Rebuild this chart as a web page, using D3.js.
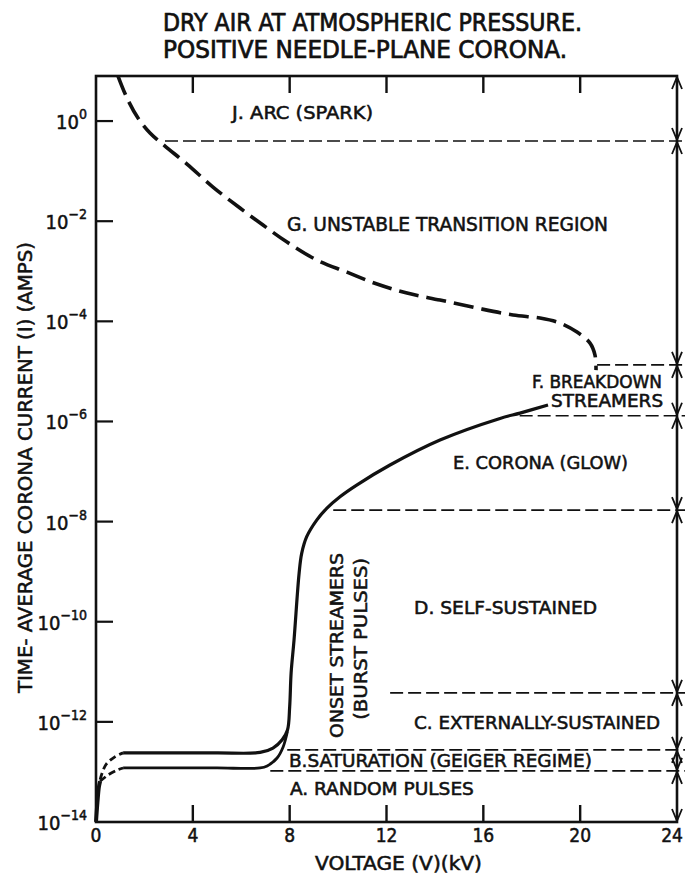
<!DOCTYPE html>
<html><head><meta charset="utf-8">
<script src="https://cdn.jsdelivr.net/npm/d3@7"></script>
<style>
html,body{margin:0;padding:0;background:#fff;}
svg text{font-family:"Liberation Sans Narrow","DejaVu Sans Condensed","Arial Narrow",sans-serif;fill:#111;stroke:#111;stroke-width:0.5px;}
</style></head><body>
<svg id="chart" width="686" height="876"></svg>
<script>
// ---------------- data ----------------
const titleLines = ["DRY AIR AT ATMOSPHERIC PRESSURE.", "POSITIVE NEEDLE-PLANE CORONA."];
const xTicks = [0, 4, 8, 12, 16, 20, 24];
const yTickExps = [0, -2, -4, -6, -8, -10, -12, -14];
const xLabel = "VOLTAGE  (V)(kV)";
const yLabel = "TIME- AVERAGE CORONA CURRENT (I) (AMPS)";

// main solid I-V curve (upper branch, onset rise, glow corona)
const mainV = [1.12, 3.0, 5.0, 6.78, 7.31, 7.69, 7.91, 8.0, 8.06, 8.18, 8.39, 8.497, 8.704, 9.117, 9.53, 10.079, 10.769, 12.145, 14.21, 16.689, 17.515, 18.672];
const mainI = [2.4e-13, 2.4e-13, 2.4e-13, 2.45e-13, 3.0e-13, 4.4e-13, 6.9e-13, 2.0e-12, 9.5e-12, 4.3e-11, 9.3e-10, 2.32e-9, 4.99e-9, 1.07e-8, 1.84e-8, 3.14e-8, 5.37e-8, 1.35e-7, 4.26e-7, 1.15e-6, 1.47e-6, 2.13e-6];
// lower solid branch
const lowerV = [1.12, 3.0, 5.0, 6.78, 7.07, 7.48, 7.73, 7.91];
const lowerI = [1.2e-13, 1.2e-13, 1.2e-13, 1.2e-13, 1.32e-13, 1.9e-13, 3.16e-13, 6.5e-13];
// solid stub at origin
const stubV = [0.0, 0.06, 0.12, 0.17];
const stubI = [1.0e-14, 2.5e-14, 5.0e-14, 6.5e-14];
// dashed connectors near origin
const connLowV = [0.17, 0.5, 0.9, 1.12];
const connLowI = [6.5e-14, 8.7e-14, 1.1e-13, 1.2e-13];
const connUpV = [0.17, 0.4, 0.78, 1.12];
const connUpI = [7.0e-14, 1.38e-13, 2.0e-13, 2.4e-13];
// unstable transition curve (dashed)
const unstV = [0.909, 1.281, 1.735, 2.231, 2.85, 3.759, 4.833, 5.948, 6.898, 7.89, 9.129, 10.368, 11.608, 12.847, 14.21, 15.739, 17.226, 18.341, 19.167, 19.87, 20.407, 20.613, 20.655];
const unstI = [7.92, 2.88, 1.148, 0.576, 0.317, 0.138, 0.0481, 0.0183, 0.00837, 0.00383, 0.00167, 9.6e-4, 5.56e-4, 3.67e-4, 2.66e-4, 1.84e-4, 1.34e-4, 1.16e-4, 9.25e-5, 6.1e-5, 3.68e-5, 2.12e-5, 1.06e-5];

// regime boundaries (current) and the voltage where each dashed line starts
const boundaryI = [0.4, 1.35e-5, 1.3e-6, 1.7e-8, 3.8e-12, 2.75e-13, 1.05e-13];
const boundaryStartV = [2.85, 20.7, 17.5, 9.8, 12.15, 7.9, 7.2];

// regime labels
const regionText = ["J. ARC (SPARK)", "G. UNSTABLE TRANSITION REGION", "F. BREAKDOWN", "STREAMERS",
  "E. CORONA (GLOW)", "D. SELF-SUSTAINED", "C. EXTERNALLY-SUSTAINED",
  "B.SATURATION (GEIGER REGIME)", "A. RANDOM PULSES"];
const verticalText = ["ONSET STREAMERS", "(BURST PULSES)"];

// ---------------- layout ----------------
const W = 686, H = 876;
const L = 96, R = 677, T = 76, B = 822;
const svg = d3.select("#chart");
svg.append("rect").attr("width", W).attr("height", H).attr("fill", "#fff");

const x = d3.scaleLinear().domain([0, 24]).range([L, R]);
const y = d3.scaleLog().domain([1e-14, Math.pow(10, 0.9)]).range([B, T]);

const ink = "#111";

// label anchors in data space: [voltage, log10 current, length px, font px]
const regionPos = [[5.62, 0.04, 141, 18], [7.89, -2.197, 321, 19], [18.01, -5.333, 130, 17], [18.80, -5.712, 112, 17],
  [14.75, -6.95, 175, 18], [13.14, -9.846, 183, 18], [13.14, -12.143, 246, 18], [7.97, -12.902, 303, 18], [8.01, -13.461, 184, 18]];
const verticalPos = [[10.2, -12.32, 185], [11.19, -11.96, 162]];

// title
const titleG = svg.append("g");
titleLines.forEach((t, i) => {
  titleG.append("text").attr("x", 163).attr("y", 31 + i * 27)
    .attr("font-size", 25).attr("textLength", i === 0 ? 419 : 404)
    .attr("lengthAdjust", "spacingAndGlyphs").style("stroke-width", "0.7px").text(t);
});

// boundaries (dashed)
boundaryI.forEach((v, i) => {
  svg.append("line").attr("x1", x(boundaryStartV[i])).attr("x2", R + 8)
    .attr("y1", y(v)).attr("y2", y(v))
    .attr("stroke", ink).attr("stroke-width", 1.7).attr("stroke-dasharray", "13,5");
});

// frame
svg.append("rect").attr("x", L).attr("y", T).attr("width", R - L).attr("height", B - T)
  .attr("fill", "none").attr("stroke", ink).attr("stroke-width", 2.6);

// axes ticks
const tickLen = 17;
xTicks.filter(t => t > 0 && t < 24).forEach(t => {
  svg.append("line").attr("x1", x(t)).attr("x2", x(t)).attr("y1", B).attr("y2", B - tickLen)
    .attr("stroke", ink).attr("stroke-width", 2.4);
  svg.append("line").attr("x1", x(t)).attr("x2", x(t)).attr("y1", T).attr("y2", T + tickLen)
    .attr("stroke", ink).attr("stroke-width", 2.4);
});
xTicks.forEach((t, i) => {
  const last = i === xTicks.length - 1;
  svg.append("text").attr("x", last ? x(t) + 6 : x(t)).attr("y", B + 20)
    .attr("text-anchor", last ? "end" : "middle")
    .attr("font-size", 19).text(t);
});
yTickExps.forEach(e => {
  const yy = y(Math.pow(10, e));
  if (e > -14) {
    svg.append("line").attr("x1", L).attr("x2", L + tickLen).attr("y1", yy).attr("y2", yy)
      .attr("stroke", ink).attr("stroke-width", 2.2);
  }
  const tx = svg.append("text").attr("x", 87).attr("y", yy + 8).attr("text-anchor", "end").attr("font-size", 20);
  tx.append("tspan").text("10");
  tx.append("tspan").attr("dy", -10).attr("font-size", 14).text(e === 0 ? "0" : "\u2212" + Math.abs(e));
});

// axis titles
svg.append("text").attr("x", 315).attr("y", 870).attr("font-size", 19)
  .attr("textLength", 167).attr("lengthAdjust", "spacingAndGlyphs").text(xLabel);
svg.append("text").attr("transform", "translate(32,693) rotate(-90)").attr("font-size", 19)
  .attr("textLength", 451).attr("lengthAdjust", "spacingAndGlyphs").text(yLabel);

// curves
const line = d3.line().x(d => x(d[0])).y(d => y(d[1])).curve(d3.curveCatmullRom.alpha(0.5));
const zip = (a, b) => a.map((v, i) => [v, b[i]]);

svg.append("path").attr("d", line(zip(unstV, unstI))).attr("fill", "none").attr("stroke", ink)
  .attr("stroke-width", 3.6).attr("stroke-dasharray", "20,8");
svg.append("path").attr("d", line(zip(connLowV, connLowI))).attr("fill", "none").attr("stroke", ink)
  .attr("stroke-width", 2.8).attr("stroke-dasharray", "7,4");
svg.append("path").attr("d", line(zip(connUpV, connUpI))).attr("fill", "none").attr("stroke", ink)
  .attr("stroke-width", 2.8).attr("stroke-dasharray", "7,4");
svg.append("path").attr("d", line(zip(stubV, stubI))).attr("fill", "none").attr("stroke", ink)
  .attr("stroke-width", 4);
svg.append("path").attr("d", line(zip(lowerV, lowerI))).attr("fill", "none").attr("stroke", ink)
  .attr("stroke-width", 2.8);
svg.append("path").attr("d", line(zip(mainV, mainI))).attr("fill", "none").attr("stroke", ink)
  .attr("stroke-width", 3.2);

// right-side dimension arrows
const edges = [Math.pow(10, 0.9)].concat(boundaryI, [1e-14]);
for (let i = 0; i < edges.length - 1; i++) {
  const yt = y(edges[i]), yb = y(edges[i + 1]);
  svg.append("path").attr("d", `M${R - 5},${yt + 13} L${R},${yt + 1} L${R + 5},${yt + 13}`)
    .attr("fill", "none").attr("stroke", ink).attr("stroke-width", 1.8);
  svg.append("path").attr("d", `M${R - 5},${yb - 13} L${R},${yb - 1} L${R + 5},${yb - 13}`)
    .attr("fill", "none").attr("stroke", ink).attr("stroke-width", 1.8);
}

// regime labels
regionText.forEach((t, i) => {
  const p = regionPos[i];
  svg.append("text").attr("x", x(p[0])).attr("y", y(Math.pow(10, p[1])))
    .attr("font-size", p[3]).attr("textLength", p[2]).attr("lengthAdjust", "spacingAndGlyphs").text(t);
});
verticalText.forEach((t, i) => {
  const p = verticalPos[i];
  svg.append("text").attr("transform", `translate(${x(p[0])},${y(Math.pow(10, p[1]))}) rotate(-90)`)
    .attr("font-size", 18).attr("textLength", p[2]).attr("lengthAdjust", "spacingAndGlyphs").text(t);
});
</script>
</body></html>
